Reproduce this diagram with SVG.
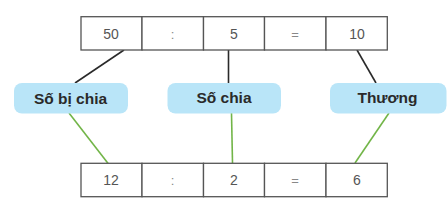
<svg xmlns="http://www.w3.org/2000/svg" width="448" height="205" viewBox="0 0 448 205">
<style>
.cell{fill:#fff;stroke:#555;stroke-width:1.3}
.num{font-family:"Liberation Sans",Arial,sans-serif;font-size:14px;fill:#555;text-anchor:middle}
.op{font-family:"Liberation Sans",Arial,sans-serif;font-size:13px;fill:#888;text-anchor:middle}
.pill{fill:#b9e5f8}
.lbl{font-family:"Liberation Sans",Arial,sans-serif;font-size:15.5px;font-weight:bold;fill:#2a2a2a;text-anchor:middle}
.dark{stroke:#2a2a2a;stroke-width:1.6;fill:none}
.green{stroke:#72b548;stroke-width:1.6;fill:none}
</style>
<rect width="448" height="205" fill="#fff"/>
<g id="connectors">
<line class="dark" x1="124" y1="50" x2="75" y2="83"/>
<line class="dark" x1="228.5" y1="50" x2="228.5" y2="83"/>
<line class="dark" x1="357" y1="50" x2="376" y2="83"/>
<line class="green" x1="69" y1="113" x2="108.5" y2="164"/>
<line class="green" x1="231.5" y1="113" x2="232.5" y2="163"/>
<line class="green" x1="389" y1="113" x2="355" y2="163"/>
</g>
<g id="top-row">
<rect class="cell" x="81" y="16.7" width="61" height="33.3"/>
<rect class="cell" x="142" y="16.7" width="61.5" height="33.3"/>
<rect class="cell" x="203.5" y="16.7" width="61" height="33.3"/>
<rect class="cell" x="264.5" y="16.7" width="61.5" height="33.3"/>
<rect class="cell" x="326" y="16.7" width="61.3" height="33.3"/>
<text class="num" x="111" y="38.8">50</text>
<text class="op" x="172.5" y="38.5">:</text>
<text class="num" x="234" y="38.8">5</text>
<text class="op" x="295" y="38.5">=</text>
<text class="num" x="357" y="38.8">10</text>
</g>
<g id="node-sobichia">
<rect class="pill" x="14" y="83" width="114" height="30.5" rx="8"/>
<text class="lbl" x="70.5" y="103.5">Số bị chia</text>
</g>
<g id="node-sochia">
<rect class="pill" x="167.5" y="83" width="113.5" height="30.5" rx="8"/>
<text class="lbl" x="224" y="103">Số chia</text>
</g>
<g id="node-thuong">
<rect class="pill" x="330" y="83" width="116.5" height="30.5" rx="8"/>
<text class="lbl" x="387.5" y="103">Thương</text>
</g>
<g id="bottom-row">
<rect class="cell" x="81" y="163.3" width="61" height="33.4"/>
<rect class="cell" x="142" y="163.3" width="61.5" height="33.4"/>
<rect class="cell" x="203.5" y="163.3" width="61" height="33.4"/>
<rect class="cell" x="264.5" y="163.3" width="61.5" height="33.4"/>
<rect class="cell" x="326" y="163.3" width="61.3" height="33.4"/>
<text class="num" x="111" y="185">12</text>
<text class="op" x="172.5" y="185">:</text>
<text class="num" x="234" y="185">2</text>
<text class="op" x="295" y="185">=</text>
<text class="num" x="357" y="185">6</text>
</g>
</svg>
